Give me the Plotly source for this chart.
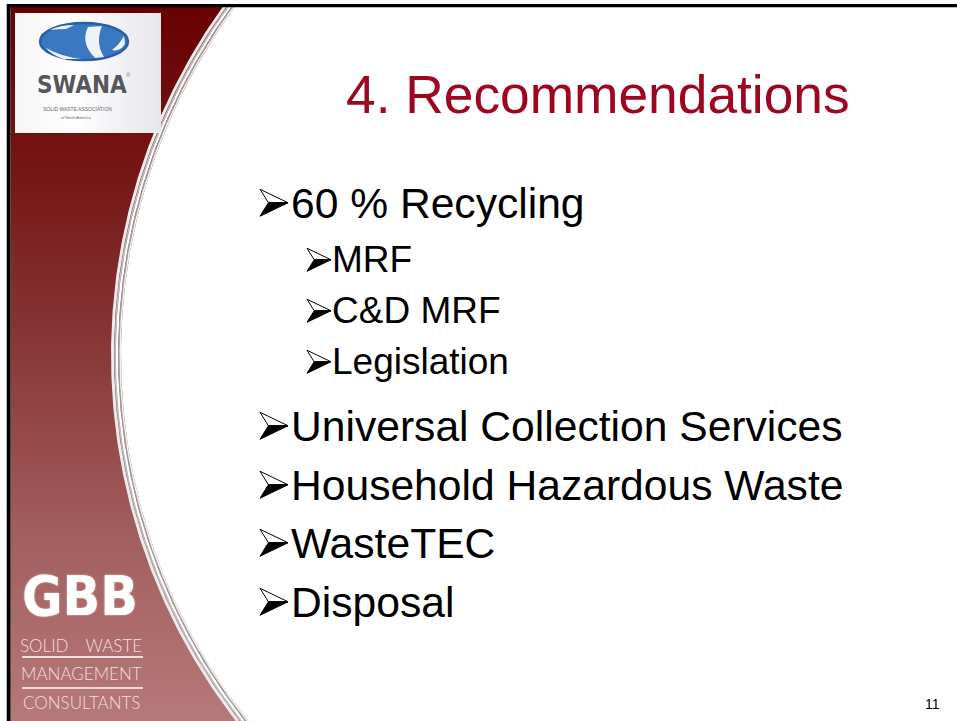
import numpy as np
import plotly.graph_objects as go

# ---------------- content ----------------
title_text = "4. Recommendations"
bullet_items = ["60 % Recycling", "MRF", "C&D MRF", "Legislation",
                "Universal Collection Services", "Household Hazardous Waste",
                "WasteTEC", "Disposal"]
bullet_levels = [0, 1, 1, 1, 0, 0, 0, 0]
page_number = "11"
swana_name = "SWANA"
swana_sub1 = "SOLID WASTE ASSOCIATION"
swana_sub2 = "of North America"
gbb_name = "GBB"
gbb_lines = ["SOLID\u2002\u2002WASTE", "MANAGEMENT", "CONSULTANTS"]

# ---------------- layout spec (pixel geometry) ----------------
W, H = 957, 721
item_baselines = [218, 273, 324, 375, 441, 500, 558, 617]
level_font = {0: 42.6, 1: 37}
level_text_x = {0: 289, 1: 330}
level_arrow_left = {0: 260, 1: 307}
level_arrow_w = {0: 28, 1: 24}
level_arrow_h = {0: 27, 1: 23}
ARIAL = "Arial, Liberation Sans, sans-serif"
NARROW = "Liberation Sans Narrow, DejaVu Sans Condensed, Arial Narrow, Liberation Sans, sans-serif"

fig = go.Figure()

# red curved side panel (circle-arc boundary)
cx, cy, r = 710.0, 355.0, 589.0
ys = np.linspace(4, H, 200)

def arc_x(off):
    rr = r - off
    return cx - np.sqrt(rr ** 2 - (ys - cy) ** 2)

bx = arc_x(0)
px = np.concatenate([[11], bx, [11]])
py = np.concatenate([[4], ys, [H]])
fig.add_trace(go.Scatter(
    x=px, y=py, mode="lines", fill="toself", line=dict(width=0),
    fillgradient=dict(type="vertical", start=0, stop=H,
                      colorscale=[[0, "#680000"], [0.25, "#761717"],
                                  [0.5, "#8b3a3a"], [0.75, "#a35f5f"],
                                  [1, "#b67979"]]),
    hoverinfo="skip", showlegend=False))

# silver edge of the curve
for off, col, wd in [(-8.5, "#ececec", 3), (-6, "#bdbdbd", 1.5), (-4, "#ffffff", 2.5),
                     (-2.2, "#999999", 1.5), (-0.8, "#f2f2f2", 1.6)]:
    fig.add_trace(go.Scatter(x=arc_x(off), y=ys, mode="lines",
                             line=dict(color=col, width=wd), hoverinfo="skip",
                             showlegend=False))

# SWANA logo box
fig.add_trace(go.Scatter(
    x=[15, 161, 161, 15, 15], y=[13, 13, 133, 133, 13], mode="lines",
    fill="toself", line=dict(width=0),
    fillgradient=dict(type="horizontal", start=15, stop=161,
                      colorscale=[[0, "#f6f6f8"], [0.4, "#ffffff"], [1, "#e6e6ec"]]),
    hoverinfo="skip", showlegend=False))

shapes = [
    # slide border (top and left)
    dict(type="line", x0=7, x1=W, y0=5.6, y1=5.6, line=dict(color="#000000", width=3.3)),
    dict(type="line", x0=8.7, x1=8.7, y0=4, y1=H, line=dict(color="#000000", width=4)),
    # globe
    dict(type="circle", x0=40, x1=128, y0=23, y1=60, fillcolor="#3a78c2",
         line=dict(color="#2a5fa8", width=2.5)),
    dict(type="path", path="M 88,27 Q 80,43 95,58 L 104,57 Q 95,43 102,26 Z",
         fillcolor="#eef3fa", line=dict(width=0)),
    dict(type="path", path="M 46,48 Q 62,57 82,59 L 64,59 Q 51,55 46,48 Z",
         fillcolor="#eef3fa", line=dict(width=0)),
    dict(type="path", path="M 50,30 Q 60,25 74,25 L 66,29 Q 57,29 50,30 Z",
         fillcolor="#eef3fa", line=dict(width=0)),
    dict(type="path", path="M 112,50 Q 119,45 124,36 L 125,44 Q 120,52 112,50 Z",
         fillcolor="#eef3fa", line=dict(width=0)),
    # GBB rules
    dict(type="line", x0=22, x1=143, y0=657, y1=657, line=dict(color="#f1dddd", width=2)),
    dict(type="line", x0=22, x1=143, y0=688, y1=688, line=dict(color="#f1dddd", width=2)),
]

ann = []
# title
ann.append(dict(x=344, y=94, text=title_text, xanchor="left", yanchor="middle",
                showarrow=False, font=dict(family=ARIAL, size=53.3, color="#a0051f")))
# bullets
for txt, lvl, base in zip(bullet_items, bullet_levels, item_baselines):
    fs = level_font[lvl]
    yc = base - 0.358 * fs
    xl, w, h = level_arrow_left[lvl], level_arrow_w[lvl], level_arrow_h[lvl]
    xn = xl + 0.3 * w
    shapes.append(dict(type="path",
                       path=f"M {xl},{yc - h / 2} L {xl + w},{yc} L {xn},{yc} Z",
                       fillcolor="#ffffff", line=dict(color="#000000", width=1)))
    shapes.append(dict(type="path",
                       path=f"M {xn},{yc} L {xl + w},{yc} L {xl},{yc + h / 2} Z",
                       fillcolor="#000000", line=dict(color="#000000", width=1)))
    ann.append(dict(x=level_text_x[lvl], y=yc, text=txt, xanchor="left", yanchor="middle",
                    showarrow=False, font=dict(family=ARIAL, size=fs, color="#000000")))
# page number
ann.append(dict(x=932.5, y=704, text=page_number, xanchor="center", yanchor="middle",
                showarrow=False, font=dict(family=ARIAL, size=14, color="#000000")))
# SWANA texts
ann.append(dict(x=82, y=85, text="<b>%s</b>" % swana_name, xanchor="center", yanchor="middle",
                showarrow=False, font=dict(family=NARROW, size=24, color="#55575a")))
ann.append(dict(x=128, y=75, text="\u00ae", xanchor="center", yanchor="middle",
                showarrow=False, font=dict(family=ARIAL, size=6, color="#777777")))
ann.append(dict(x=77, y=109, text=swana_sub1, xanchor="center", yanchor="middle",
                showarrow=False, font=dict(family=ARIAL, size=5, color="#666666")))
ann.append(dict(x=76, y=117, text=swana_sub2, xanchor="center", yanchor="middle",
                showarrow=False, font=dict(family=ARIAL, size=4, color="#666666")))
# GBB texts
ann.append(dict(x=80, y=596, text="<b>%s</b>" % gbb_name, xanchor="center", yanchor="middle",
                showarrow=False,
                font=dict(family=NARROW, size=55, color="#ffffff",
                          shadow="0px 0px 2px #f0d0d0")))
for txt, yc in zip(gbb_lines, [645, 673, 702]):
    ann.append(dict(x=81, y=yc, text=txt, xanchor="center", yanchor="middle",
                    showarrow=False,
                    font=dict(family="Lato, Liberation Sans, sans-serif", size=17,
                              color="#f3dede", weight=300)))

fig.update_layout(
    width=W, height=H, margin=dict(l=0, r=0, t=0, b=0),
    paper_bgcolor="#ffffff", plot_bgcolor="#ffffff",
    xaxis=dict(range=[0, W], visible=False, fixedrange=True),
    yaxis=dict(range=[H, 0], visible=False, fixedrange=True),
    shapes=shapes, annotations=ann, showlegend=False,
)
fig.write_html("out.html", config={"displayModeBar": False},
               post_script="document.body.style.margin='0px';document.body.style.overflow='hidden';")
